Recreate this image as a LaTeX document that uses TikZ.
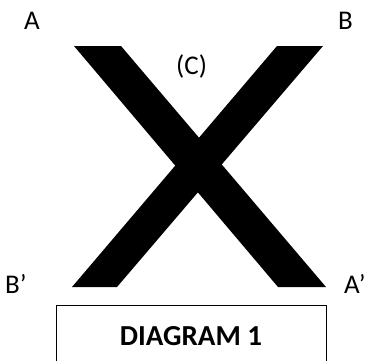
\documentclass[tikz,border=0pt]{standalone}
\usepackage{fontspec}
\setmainfont{Carlito}
\usetikzlibrary{positioning}
\tikzset{
  lbl/.style={inner sep=0pt, anchor=base west, font=\fontsize{27}{30}\selectfont},
  bar/.style={fill=black, draw=none},
  titlebox/.style={draw, line width=1pt, minimum width=270pt, minimum height=62pt, inner sep=0pt, font=\fontsize{29}{34}\selectfont\bfseries},
}

\begin{document}
\begin{tikzpicture}[x=1pt, y=-1pt]
  \useasboundingbox (0,0) rectangle (365,360);
  \clip (0,0) rectangle (365,360);
  % the two bars of the X
  \fill[bar] (74,46) -- (121,46) -- (326,287) -- (278,287) -- cycle;
  \fill[bar] (277,46) -- (323,46) -- (117,287) -- (72,287) -- cycle;
  % corner labels
  \node[lbl] (a) at (24,29) {A};
  \node[lbl] (b) at (338,29) {B};
  \node[lbl] (c) at (176,74.5) {(C)};
  \node[lbl] (bp) at (5,293) {B’};
  \node[lbl] (ap) at (344,293) {A’};
  \node[titlebox] (diag) at (191,336) {DIAGRAM 1};
\end{tikzpicture}
\end{document}
